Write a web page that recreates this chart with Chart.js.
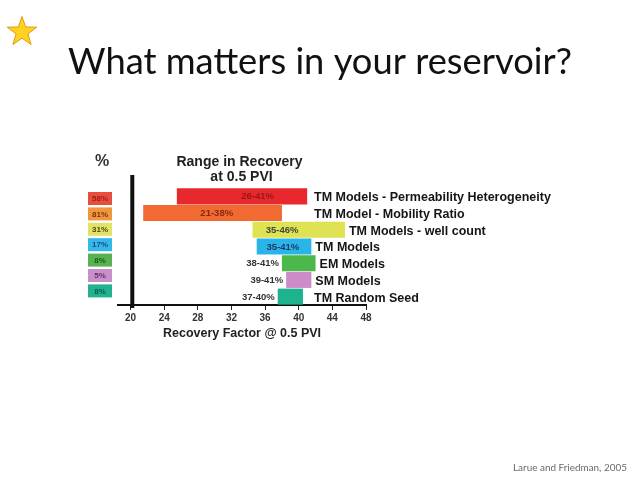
<!DOCTYPE html>
<html>
<head>
<meta charset="utf-8">
<script src="https://cdn.jsdelivr.net/npm/chart.js@4/dist/chart.umd.min.js"></script>
<style>
html,body{margin:0;padding:0;background:#ffffff;}
#wrap{position:relative;width:640px;height:480px;overflow:hidden;background:#fff;}
#c{position:absolute;left:0;top:0;}
#star{position:absolute;left:0;top:0;}
</style>
</head>
<body>
<div id="wrap">
<canvas id="c" width="640" height="480"></canvas>
<svg id="star" width="60" height="60"><polygon id="starPoly" fill="#ffd21f" stroke="#e09a10" stroke-width="1"/></svg>
</div>
<script>
// ---------- data ----------
const categories = ['TM Models - Permeability Heterogeneity', 'TM Model - Mobility Ratio', 'TM Models - well count', 'TM Models', 'EM Models', 'SM Models', 'TM Random Seed'];
const rangeStart = [25.5, 21.5, 34.5, 35, 38, 38.5, 37.5];
const rangeEnd = [41, 38, 45.5, 41.5, 42, 41.5, 40.5];
const rangeLabels = ['26-41%', '21-38%', '35-46%', '35-41%', '38-41%', '39-41%', '37-40%'];
const sharePercent = ['58%', '81%', '31%', '17%', '8%', '5%', '8%'];
const xTicks = [20, 24, 28, 32, 36, 40, 44, 48];

// ---------- styles ----------
const barColors = ['#e8282c', '#f06a32', '#dfe252', '#2ab5e8', '#4cb84a', '#cc8cc8', '#1db38c'];
const boxColors = ['#e84e3c', '#f2963e', '#e2e266', '#33b8e8', '#58b252', '#c890c8', '#22b290'];
const boxTextColors = ['#9b1c1c', '#7a3410', '#4a4a10', '#1c4a8a', '#1a5a1a', '#6a2a6a', '#0a5a4a'];
const rangeTextColors = ['#961818', '#862a10', '#3a4a40', '#1c3a6a', '#333333', '#333333', '#333333'];
const insideFrac = [0.62, 0.53, 0.32, 0.48];

// star
(function(){
  const cx = 22, cy = 32, ro = 15.5, ri = 6.2, pts = [];
  for (let k = 0; k < 10; k++) {
    const a = (-90 + k * 36) * Math.PI / 180, r = k % 2 ? ri : ro;
    pts.push((cx + r * Math.cos(a)).toFixed(2) + ',' + (cy + r * Math.sin(a)).toFixed(2));
  }
  document.getElementById('starPoly').setAttribute('points', pts.join(' '));
})();

const FONT = "'Liberation Sans', Arial, sans-serif";

const decor = {
  id: 'decor',
  afterDatasetsDraw(chart) {
    const ctx = chart.ctx, xs = chart.scales.x, ca = chart.chartArea;
    const meta = chart.getDatasetMeta(0);
    ctx.save();
    // title
    ctx.fillStyle = '#111';
    ctx.textBaseline = 'alphabetic';
    ctx.textAlign = 'left';
    let t = 'What matters in your reservoir?';
    ctx.font = "100px Lato, 'Open Sans', sans-serif";
    let fs = 100 * 504 / ctx.measureText(t).width;
    ctx.font = fs.toFixed(2) + "px Lato, 'Open Sans', sans-serif";
    ctx.fillText(t, 68, 74);
    // footer
    t = 'Larue and Friedman, 2005';
    ctx.fillStyle = '#6a6a6a';
    ctx.font = "100px Lato, 'Open Sans', sans-serif";
    fs = 100 * 114 / ctx.measureText(t).width;
    ctx.font = fs.toFixed(2) + "px Lato, 'Open Sans', sans-serif";
    ctx.fillText(t, 513, 471);

    // thick vertical axis
    const vx = xs.getPixelForValue(20.2);
    ctx.fillStyle = '#111';
    ctx.fillRect(vx - 2, ca.top - 13, 4, ca.bottom - ca.top + 16);

    // headers
    ctx.fillStyle = '#333';
    ctx.textAlign = 'center';
    ctx.textBaseline = 'middle';
    ctx.font = 'bold 16px ' + FONT;
    ctx.fillText('%', 102, 162);
    ctx.fillStyle = '#222';
    ctx.font = 'bold 14px ' + FONT;
    ctx.fillText('Range in Recovery', 239.5, 162);
    ctx.fillText('at 0.5 PVI', 241.5, 177.5);

    // left share boxes
    ctx.font = 'bold 8px ' + FONT;
    for (let i = 0; i < categories.length; i++) {
      const cy = ca.top + 10.5 + i * 15.4;
      ctx.fillStyle = boxColors[i];
      ctx.fillRect(88, cy - 6.5, 24, 13);
      ctx.fillStyle = boxTextColors[i];
      ctx.fillText(sharePercent[i], 100, cy + 0.5);
    }

    // range labels + category labels
    meta.data.forEach((bar, i) => {
      const left = Math.min(bar.x, bar.base), right = Math.max(bar.x, bar.base);
      ctx.font = 'bold 9.5px ' + FONT;
      ctx.fillStyle = rangeTextColors[i];
      if (i < insideFrac.length) {
        ctx.textAlign = 'center';
        ctx.fillText(rangeLabels[i], left + insideFrac[i] * (right - left), bar.y + 0.5);
      } else {
        ctx.textAlign = 'right';
        ctx.fillText(rangeLabels[i], left - 3, bar.y + 0.5);
      }
      ctx.textAlign = 'left';
      ctx.fillStyle = '#151515';
      ctx.font = 'bold 12.5px ' + FONT;
      ctx.fillText(categories[i], Math.max(right + 4, 314), bar.y + 1.5);
    });
    ctx.restore();
  }
};

new Chart(document.getElementById('c'), {
  type: 'bar',
  data: {
    labels: categories,
    datasets: [{
      data: rangeStart.map((s, i) => [s, rangeEnd[i]]),
      backgroundColor: barColors,
      borderWidth: 0,
      barPercentage: 0.96,
      categoryPercentage: 1.0
    }]
  },
  options: {
    indexAxis: 'y',
    responsive: false,
    animation: false,
    layout: { padding: { left: 118, right: 274, top: 188, bottom: 139 } },
    plugins: { legend: { display: false }, tooltip: { enabled: false } },
    scales: {
      y: { type: 'category', display: false },
      x: {
        type: 'linear', min: 18.5, max: 48,
        afterBuildTicks: s => { s.ticks = xTicks.map(v => ({ value: v })); },
        grid: { drawOnChartArea: false, drawTicks: true, tickLength: 5, color: '#222', lineWidth: 1 },
        border: { display: true, color: '#111', width: 2 },
        ticks: { font: { family: FONT, weight: 'bold', size: 10 }, color: '#333', padding: 2, autoSkip: false, maxRotation: 0 },
        title: { display: true, text: 'Recovery Factor @ 0.5 PVI', font: { family: FONT, weight: 'bold', size: 12.5 }, color: '#222', padding: { top: 0, bottom: 0 } }
      }
    }
  },
  plugins: [decor]
});
</script>
</body>
</html>
